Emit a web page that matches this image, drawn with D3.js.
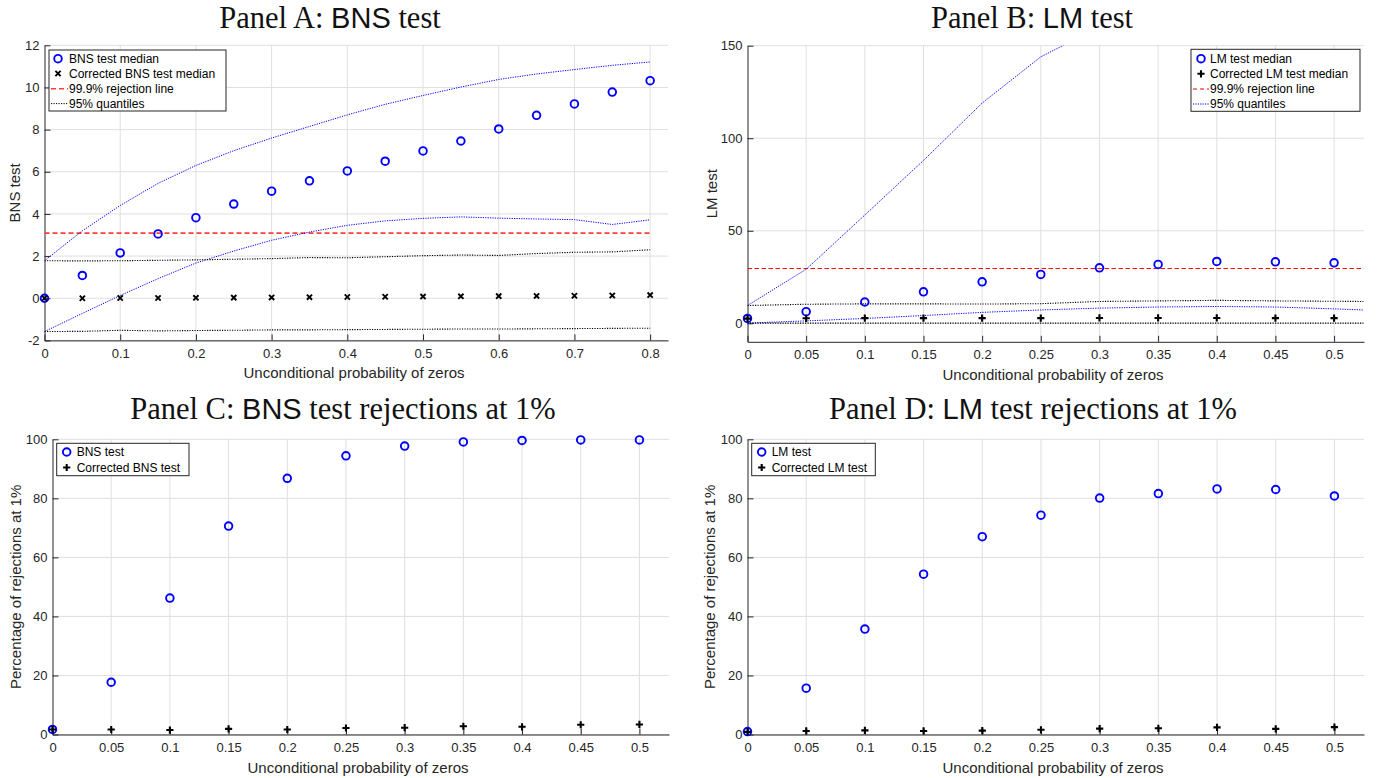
<!DOCTYPE html>
<html>
<head>
<meta charset="utf-8">
<script src="https://cdn.jsdelivr.net/npm/d3@7"></script>
<style>
  body { margin: 0; background: #fff; }
  svg { display: block; }
</style>
</head>
<body>
<svg id="fig" width="1382" height="778"></svg>
<script>
// ---------- Panel A: BNS test medians and quantiles ----------
const probA = [0, 0.05, 0.1, 0.15, 0.2, 0.25, 0.3, 0.35, 0.4, 0.45, 0.5, 0.55, 0.6, 0.65, 0.7, 0.75, 0.8];
const bnsMedian      = [0, 1.08, 2.15, 3.05, 3.82, 4.47, 5.08, 5.57, 6.04, 6.5, 6.99, 7.46, 8.03, 8.68, 9.22, 9.78, 10.32];
const bnsCorrMedian  = [0, 0, 0.01, 0.01, 0.02, 0.03, 0.04, 0.05, 0.06, 0.07, 0.08, 0.09, 0.1, 0.11, 0.12, 0.13, 0.15];
const bnsUpperQ      = [1.78, 3.2, 4.4, 5.45, 6.3, 7.0, 7.6, 8.15, 8.7, 9.2, 9.62, 10.02, 10.38, 10.64, 10.85, 11.05, 11.21];
const bnsLowerQ      = [-1.58, -0.72, 0.13, 0.93, 1.67, 2.24, 2.75, 3.14, 3.46, 3.67, 3.79, 3.86, 3.8, 3.76, 3.73, 3.5, 3.72];
const bnsCorrUpperQ  = [1.78, 1.77, 1.78, 1.8, 1.82, 1.85, 1.88, 1.93, 1.92, 1.97, 2.02, 2.05, 2.03, 2.12, 2.18, 2.2, 2.3];
const bnsCorrLowerQ  = [-1.58, -1.57, -1.52, -1.55, -1.53, -1.52, -1.5, -1.5, -1.49, -1.48, -1.47, -1.46, -1.46, -1.45, -1.44, -1.43, -1.42];
const bnsCritical = 3.09;

// ---------- Panel B: LM test medians and quantiles ----------
const probB      = [0, 0.05, 0.1, 0.15, 0.2, 0.25, 0.3, 0.35, 0.4, 0.45, 0.5];
const probBLines = [0, 0.05, 0.1, 0.15, 0.2, 0.25, 0.3, 0.35, 0.4, 0.45, 0.5, 0.525];
const lmMedian      = [2.6, 6.3, 11.5, 17, 22.4, 26.4, 30, 31.8, 33.4, 33.2, 32.7];
const lmCorrMedian  = [2.5, 2.7, 2.8, 2.8, 2.8, 2.8, 2.9, 2.9, 2.9, 2.8, 2.8];
const lmUpperQ      = [9.6, 29.2, 58.5, 88, 119, 144, 160, 172, 182, 190, 196, 198];
const lmLowerQ      = [0.1, 1.3, 2.6, 4.2, 5.9, 7.2, 8.2, 8.8, 9.1, 8.8, 7.8, 7.2];
const lmCorrUpperQ  = [9.6, 10.3, 10.5, 10.5, 10.4, 10.6, 11.8, 12.1, 12.4, 12.1, 11.9, 11.8];
const lmCorrLowerQ  = [0.1, 0.1, 0.1, 0.1, 0.1, 0.1, 0.1, 0.1, 0.1, 0.1, 0.1, 0.1];
const lmCritical = 29.59;

// ---------- Panels C and D: rejection rates at 1% ----------
const probRej       = [0, 0.05, 0.1, 0.15, 0.2, 0.25, 0.3, 0.35, 0.4, 0.45, 0.5];
const bnsReject     = [1.7, 17.7, 46.2, 70.6, 86.8, 94.4, 97.7, 99.1, 99.6, 99.8, 99.8];
const bnsCorrReject = [1.7, 1.7, 1.5, 1.9, 1.7, 2.2, 2.3, 2.8, 2.6, 3.3, 3.4];
const lmReject      = [1.0, 15.7, 35.7, 54.3, 67, 74.3, 80.1, 81.6, 83.2, 83, 80.8];
const lmCorrReject  = [0.9, 1.2, 1.4, 1.2, 1.3, 1.6, 2.0, 2.1, 2.4, 1.9, 2.5];

// ---------- tick values ----------
const xTicksA   = [0, 0.1, 0.2, 0.3, 0.4, 0.5, 0.6, 0.7, 0.8];
const yTicksA   = [-2, 0, 2, 4, 6, 8, 10, 12];
const xTicksB   = [0, 0.05, 0.1, 0.15, 0.2, 0.25, 0.3, 0.35, 0.4, 0.45, 0.5];
const yTicksB   = [0, 50, 100, 150];
const yTicksRej = [0, 20, 40, 60, 80, 100];

// ---------- styling ----------
const AX = "#262626", GRID = "#dfdfdf", BLUE = "#0000ff", RED = "#ff0000";
const SANS = "'Liberation Sans', Arial, Helvetica, sans-serif";
const SERIF = "'Liberation Serif', 'Times New Roman', serif";
const CIRCLE_R = 3.8, CIRCLE_W = 1.9;

const svg = d3.select("#fig");
const fmt = d => String(+d.toFixed(4));

function drawMarkers(g, xs, ys, type, x, y) {
  const sel = g.append("g").selectAll(null).data(ys).join(type === "circle" ? "circle" : "path");
  if (type === "circle") {
    sel.attr("cx", (d, i) => x(xs[i])).attr("cy", d => y(d)).attr("r", CIRCLE_R)
      .attr("fill", "none").attr("stroke", BLUE).attr("stroke-width", CIRCLE_W);
  } else if (type === "x") {
    sel.attr("transform", (d, i) => `translate(${x(xs[i])},${y(d)})`)
      .attr("d", "M-2.6,-2.6L2.6,2.6M-2.6,2.6L2.6,-2.6")
      .attr("stroke", "#000").attr("stroke-width", 1.9).attr("fill", "none");
  } else {
    sel.attr("transform", (d, i) => `translate(${x(xs[i])},${y(d)})`)
      .attr("d", "M-3.6,0H3.6M0,-3.6V3.6")
      .attr("stroke", "#000").attr("stroke-width", 2.1).attr("fill", "none");
  }
}

function drawLegend(g, box, entries) {
  const lg = g.append("g");
  lg.append("rect").attr("x", box.x).attr("y", box.y).attr("width", box.w).attr("height", box.h)
    .attr("fill", "#fff").attr("stroke", AX).attr("stroke-width", 1);
  entries.forEach(e => {
    const cy = e.y;
    if (e.kind === "circle") {
      lg.append("circle").attr("cx", box.mx).attr("cy", cy).attr("r", CIRCLE_R)
        .attr("fill", "none").attr("stroke", BLUE).attr("stroke-width", CIRCLE_W);
    } else if (e.kind === "x") {
      lg.append("path").attr("transform", `translate(${box.mx},${cy})`)
        .attr("d", "M-2.6,-2.6L2.6,2.6M-2.6,2.6L2.6,-2.6")
        .attr("stroke", "#000").attr("stroke-width", 1.9);
    } else if (e.kind === "plus") {
      lg.append("path").attr("transform", `translate(${box.mx},${cy})`)
        .attr("d", "M-3.6,0H3.6M0,-3.6V3.6")
        .attr("stroke", "#000").attr("stroke-width", 2.1);
    } else {
      lg.append("line").attr("x1", box.x + 2).attr("x2", box.tx - 1).attr("y1", cy).attr("y2", cy)
        .attr("stroke", e.color).attr("stroke-width", e.width).attr("stroke-dasharray", e.dash);
    }
    lg.append("text").attr("x", box.tx).attr("y", cy + 4.3).text(e.label)
      .attr("font-family", SANS).attr("font-size", 12).attr("fill", "#000");
  });
}

function drawPanel(p) {
  const g = svg.append("g");
  const x = d3.scaleLinear().domain(p.xDomain).range([p.left, p.right]);
  const y = d3.scaleLinear().domain(p.yDomain).range([p.bottom, p.top]);

  // grid
  g.append("g").selectAll("line").data(p.xTicks.filter(t => t > 0)).join("line")
    .attr("x1", d => x(d)).attr("x2", d => x(d)).attr("y1", p.top).attr("y2", p.bottom)
    .attr("stroke", GRID).attr("stroke-width", 1);
  g.append("g").selectAll("line").data(p.yTicks).join("line")
    .attr("x1", p.left).attr("x2", p.right).attr("y1", d => y(d)).attr("y2", d => y(d))
    .attr("stroke", GRID).attr("stroke-width", 1);

  // axes
  const styleAxis = sel => {
    sel.attr("font-family", SANS).attr("font-size", 13);
    sel.select("path.domain").attr("stroke", AX).attr("stroke-width", 1);
    sel.selectAll(".tick line").attr("stroke", AX).attr("stroke-width", 1);
    sel.selectAll(".tick text").attr("fill", AX);
  };
  g.append("g").attr("transform", `translate(0,${p.bottom})`)
    .call(d3.axisBottom(x).tickValues(p.xTicks).tickFormat(fmt)
      .tickSizeInner(-6).tickSizeOuter(0).tickPadding(8.3))
    .call(styleAxis);
  g.append("g").attr("transform", `translate(${p.left},0)`)
    .call(d3.axisLeft(y).tickValues(p.yTicks).tickFormat(fmt)
      .tickSizeInner(-6).tickSizeOuter(0).tickPadding(5))
    .call(styleAxis);

  // lines (clipped to the axes box)
  const cid = "clip" + p.id;
  svg.append("clipPath").attr("id", cid).append("rect")
    .attr("x", p.left).attr("y", p.top).attr("width", p.right - p.left).attr("height", p.bottom - p.top);
  const plot = g.append("g").attr("clip-path", `url(#${cid})`);
  (p.lines || []).forEach(L => {
    const line = d3.line().x((d, i) => x(L.x[i])).y(d => y(d));
    plot.append("path").attr("d", line(L.y)).attr("fill", "none")
      .attr("stroke", L.color).attr("stroke-width", L.width)
      .attr("stroke-dasharray", L.dash || null);
  });

  // markers
  p.markers.forEach(M => drawMarkers(g, M.x, M.y, M.type, x, y));

  // labels
  g.append("text").attr("x", p.xLabelX).attr("y", p.bottom + 38).attr("text-anchor", "middle")
    .attr("font-family", SANS).attr("font-size", 15).attr("fill", AX).text(p.xLabel);
  g.append("text").attr("transform", `translate(${p.yLabelX},${(p.top + p.bottom) / 2}) rotate(-90)`)
    .attr("text-anchor", "middle").attr("font-family", SANS).attr("font-size", 15).attr("fill", AX)
    .text(p.yLabel);

  // title: serif text with the test name set in sans
  const t = g.append("text").attr("x", p.titleX).attr("y", p.titleY).attr("text-anchor", "middle")
    .attr("fill", "#111");
  p.title.forEach(part => {
    t.append("tspan").text(part.s)
      .attr("font-family", part.sans ? SANS : SERIF)
      .attr("font-size", part.sans ? 29 : 30.5);
  });

  drawLegend(g, p.legendBox, p.legend);
}

const dotBlue  = { color: BLUE, width: 1, dash: "1.2,1.2" };
const dotBlack = { color: "#000", width: 1.1, dash: "1.2,1.3" };

drawPanel({
  id: "A", left: 44.5, right: 668, top: 45.3, bottom: 340.4,
  xDomain: [0, 0.8236], yDomain: [-2, 12], xTicks: xTicksA, yTicks: yTicksA,
  lines: [
    { x: [0, 0.8], y: [bnsCritical, bnsCritical], color: "#ff3c3c", width: 1.8, dash: "5,3" },
    { x: probA, y: bnsUpperQ, ...dotBlue },
    { x: probA, y: bnsLowerQ, ...dotBlue },
    { x: probA, y: bnsCorrUpperQ, ...dotBlack },
    { x: probA, y: bnsCorrLowerQ, ...dotBlack }
  ],
  markers: [
    { x: probA, y: bnsMedian, type: "circle" },
    { x: probA, y: bnsCorrMedian, type: "x" }
  ],
  xLabel: "Unconditional probability of zeros", xLabelX: 354,
  yLabel: "BNS test", yLabelX: 20,
  title: [{ s: "Panel A: " }, { s: "BNS", sans: true }, { s: " test" }], titleX: 330, titleY: 28,
  legendBox: { x: 49, y: 50, w: 177, h: 61, mx: 58, tx: 69 },
  legend: [
    { kind: "circle", y: 58.7, label: "BNS test median" },
    { kind: "x", y: 73.5, label: "Corrected BNS test median" },
    { kind: "line", y: 88.8, label: "99.9% rejection line", color: "#ff3c3c", width: 1.5, dash: "5,3" },
    { kind: "line", y: 103.6, label: "95% quantiles", color: "#000", width: 1, dash: "1.2,1.3" }
  ]
});

drawPanel({
  id: "B", left: 747.5, right: 1364, top: 45.7, bottom: 341.8,
  xDomain: [0, 0.5255], yDomain: [-10, 150], xTicks: xTicksB, yTicks: yTicksB,
  lines: [
    { x: [0, 0.525], y: [lmCritical, lmCritical], color: RED, width: 1, dash: "4.5,2.5" },
    { x: probBLines, y: lmUpperQ, ...dotBlue },
    { x: probBLines, y: lmLowerQ, ...dotBlue },
    { x: probBLines, y: lmCorrUpperQ, ...dotBlack },
    { x: probBLines, y: lmCorrLowerQ, ...dotBlack }
  ],
  markers: [
    { x: probB, y: lmMedian, type: "circle" },
    { x: probB, y: lmCorrMedian, type: "plus" }
  ],
  xLabel: "Unconditional probability of zeros", xLabelX: 1053,
  yLabel: "LM test", yLabelX: 717,
  title: [{ s: "Panel B: " }, { s: "LM", sans: true }, { s: " test" }], titleX: 1032, titleY: 28,
  legendBox: { x: 1191, y: 49.3, w: 169, h: 62, mx: 1201, tx: 1210 },
  legend: [
    { kind: "circle", y: 58.7, label: "LM test median" },
    { kind: "plus", y: 73.8, label: "Corrected LM test median" },
    { kind: "line", y: 89, label: "99.9% rejection line", color: RED, width: 1, dash: "4,3" },
    { kind: "line", y: 104, label: "95% quantiles", color: BLUE, width: 1, dash: "1.2,1.2" }
  ]
});

drawPanel({
  id: "C", left: 52.5, right: 669, top: 439.3, bottom: 734.5,
  xDomain: [0, 0.5252], yDomain: [0, 100], xTicks: xTicksB, yTicks: yTicksRej,
  markers: [
    { x: probRej, y: bnsReject, type: "circle" },
    { x: probRej, y: bnsCorrReject, type: "plus" }
  ],
  xLabel: "Unconditional probability of zeros", xLabelX: 358,
  yLabel: "Percentage of rejections at 1%", yLabelX: 21,
  title: [{ s: "Panel C: " }, { s: "BNS", sans: true }, { s: " test rejections at 1%" }], titleX: 343, titleY: 419,
  legendBox: { x: 56.7, y: 443.3, w: 132.3, h: 32.4, mx: 66.7, tx: 76.7 },
  legend: [
    { kind: "circle", y: 452, label: "BNS test" },
    { kind: "plus", y: 467.5, label: "Corrected BNS test" }
  ]
});

drawPanel({
  id: "D", left: 747.5, right: 1364, top: 439.3, bottom: 734.5,
  xDomain: [0, 0.5252], yDomain: [0, 100], xTicks: xTicksB, yTicks: yTicksRej,
  markers: [
    { x: probRej, y: lmReject, type: "circle" },
    { x: probRej, y: lmCorrReject, type: "plus" }
  ],
  xLabel: "Unconditional probability of zeros", xLabelX: 1053,
  yLabel: "Percentage of rejections at 1%", yLabelX: 715,
  title: [{ s: "Panel D: " }, { s: "LM", sans: true }, { s: " test rejections at 1%" }], titleX: 1033, titleY: 419,
  legendBox: { x: 751.7, y: 443.3, w: 123.6, h: 32.4, mx: 761.7, tx: 771.7 },
  legend: [
    { kind: "circle", y: 452, label: "LM test" },
    { kind: "plus", y: 467.5, label: "Corrected LM test" }
  ]
});
</script>
</body>
</html>
